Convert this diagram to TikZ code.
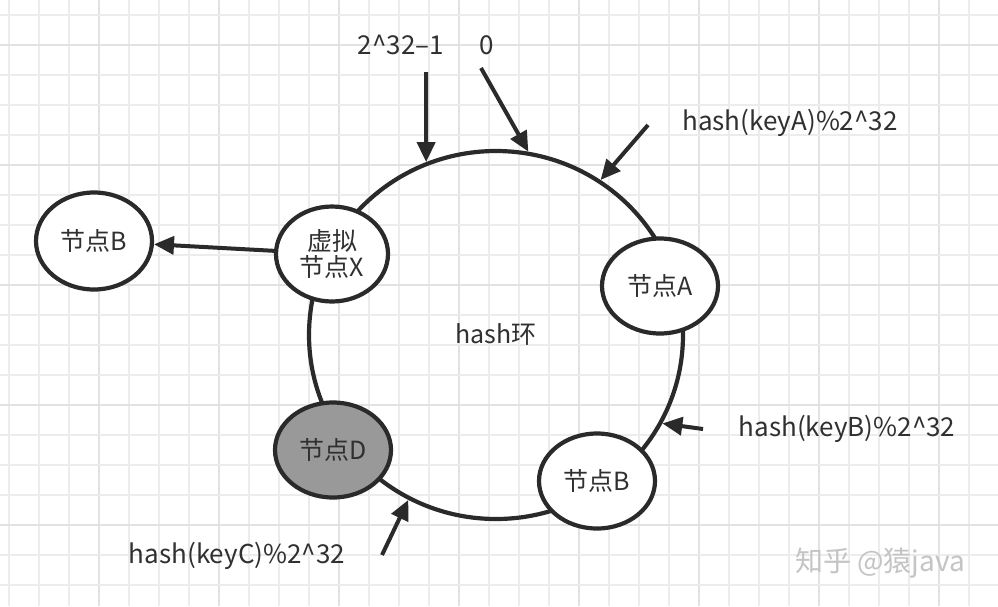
\documentclass[tikz,border=0pt]{standalone}
\usepackage{fontspec}
\setmainfont{Noto Sans CJK SC}
\usepackage{tikz}
\usetikzlibrary{arrows.meta,shapes.geometric}
\usetikzlibrary{positioning}

\definecolor{inkdark}{RGB}{42,42,42}
\definecolor{textdark}{RGB}{48,48,48}
\definecolor{gridgray}{RGB}{236,236,236}
\definecolor{gridmajor}{RGB}{226,226,226}
\definecolor{vnodegray}{RGB}{153,153,153}
\definecolor{markgray}{RGB}{196,196,196}

\begin{document}
\begin{tikzpicture}[x=1pt,y=-1pt,
    ringnode/.style={ellipse,draw=inkdark,line width=4.2pt,minimum width=374pt,minimum height=368pt,inner sep=0pt,text=textdark},
    hashnode/.style={ellipse,draw=inkdark,fill=white,line width=4.2pt,minimum width=116pt,minimum height=95pt,inner sep=0pt,align=center,text=textdark},
    keylabel/.style={text=textdark,inner sep=0pt,font=\fontsize{26}{30}\selectfont},
    pointer/.style={draw=inkdark,line width=4pt,-{Triangle[length=20pt,width=18pt]}},
    gridline/.style={draw=gridgray,line width=2pt},
    gridbold/.style={draw=gridmajor,line width=2pt},
    every node/.style={font=\fontsize{25}{30}\selectfont}
    ]
    \useasboundingbox (0,0) rectangle (998,606);
    \fill[white] (0,0) rectangle (998,606);
    % background grid
    \foreach \gx in {0,...,33} {
        \pgfmathtruncatemacro{\major}{mod(\gx,4)==3}
        \ifnum \major = 1
        \draw[gridbold] (8.5+30*\gx,0) -- (8.5+30*\gx,606);
        \else
        \draw[gridline] (8.5+30*\gx,0) -- (8.5+30*\gx,606);
        \fi
    }
    \foreach \gy in {0,...,19} {
        \pgfmathtruncatemacro{\major}{mod(\gy,4)==1}
        \ifnum \major = 1
        \draw[gridbold] (0,14.5+30*\gy) -- (998,14.5+30*\gy);
        \else
        \draw[gridline] (0,14.5+30*\gy) -- (998,14.5+30*\gy);
        \fi
    }
    
    % the hash ring
    \node[ringnode] (ring) at (496,335) {hash环};
    
    % real and virtual nodes
    \node[hashnode] (nodeA) at (660,286) {节点A};
    \node[hashnode] (nodeB) at (597,481) {节点B};
    \node[hashnode,fill=vnodegray] (nodeD) at (333,450) {节点D};
    \node[hashnode,minimum width=112pt] (nodeX) at (332,254) {虚拟\\[-4pt]节点X};
    \node[hashnode,minimum height=97pt] (nodeBL) at (94,241) {节点B};
    \draw[pointer] (nodeX) -- (nodeBL);
    
    % positions on the ring
    \node[keylabel] (lmax) at (401,45) {2\^{}32–1};
    \node[keylabel] (lzero) at (487,45) {0};
    \node[keylabel] (lkeyA) at (790,123) {hash(keyA)\%2\^{}32};
    \node[keylabel] (lkeyB) at (847,429) {hash(keyB)\%2\^{}32};
    \node[keylabel] (lkeyC) at (237,556) {hash(keyC)\%2\^{}32};
    
    \coordinate (smax) at (426,72);
    \coordinate (szero) at (481,68);
    \coordinate (skeyA) at (648,125);
    \coordinate (skeyB) at (703,429);
    \coordinate (skeyC) at (382,555);
    
    \draw[pointer] (smax) -- (ring.112.6);
    \draw[pointer] (szero) -- (ring.80.4);
    \draw[pointer] (skeyA) -- (ring.56);
    \draw[pointer] (skeyB) -- (ring.-28.8);
    \draw[pointer] (skeyC) -- (ring.-118.1);
    
    % watermark
    \node[text=markgray,font=\fontsize{28}{32}\selectfont] (zhihu) at (880,563) {知乎 @猿java};
    
\end{tikzpicture}
\end{document}
